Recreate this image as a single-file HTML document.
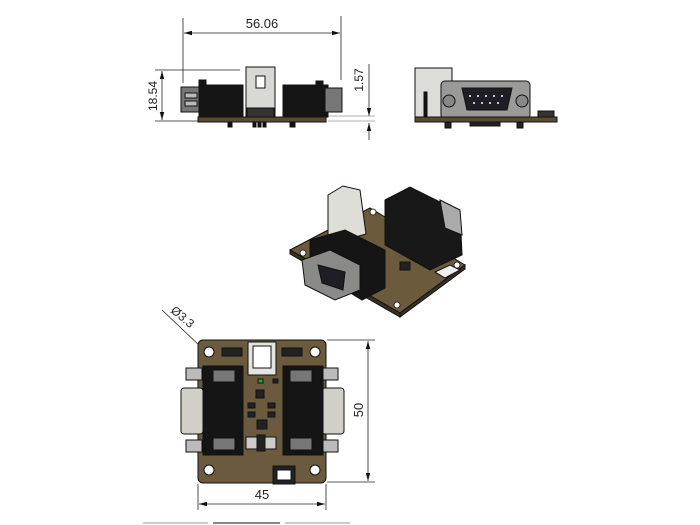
<!DOCTYPE html>
<html><head><meta charset="utf-8"><style>
html,body{margin:0;padding:0;background:#fff;}
svg{display:block;}
text{font-family:"Liberation Sans",sans-serif;fill:#222;}
</style></head><body>
<svg width="700" height="525" viewBox="0 0 700 525" xmlns="http://www.w3.org/2000/svg">
<defs>
<marker id="a" markerWidth="8" markerHeight="6" refX="8" refY="3" orient="auto-start-reverse" markerUnits="userSpaceOnUse"><path d="M0,0.8 L8,3 L0,5.2z" fill="#111"/></marker>
</defs>
<!-- FRONT VIEW -->
<g stroke="#222" stroke-width="0.8" fill="none">
<line x1="183" y1="18" x2="183" y2="83"/>
<line x1="341" y1="16" x2="341" y2="80"/>
<line x1="184" y1="33" x2="340" y2="33" marker-start="url(#a)" marker-end="url(#a)"/>
<line x1="155" y1="70" x2="240" y2="70"/>
<line x1="155" y1="121" x2="198" y2="121"/>
<line x1="162" y1="71" x2="162" y2="120" marker-start="url(#a)" marker-end="url(#a)"/>
<line x1="369" y1="64" x2="369" y2="116" marker-end="url(#a)"/>
<line x1="369" y1="140" x2="369" y2="123" marker-end="url(#a)"/>
<line x1="328" y1="116" x2="375" y2="116" stroke="#999"/>
<line x1="328" y1="121" x2="375" y2="121" stroke="#999"/>
</g>
<text x="262" y="28" font-size="13" text-anchor="middle">56.06</text>
<text x="0" y="0" font-size="12" text-anchor="middle" transform="translate(157,96) rotate(-90)">18.54</text>
<text x="0" y="0" font-size="12" text-anchor="middle" transform="translate(363,80) rotate(-90)">1.57</text>
<g stroke="#111" stroke-width="1">
<rect x="181" y="87" width="20" height="25" fill="#777"/>
<rect x="185" y="93" width="12" height="5" fill="#bbb"/>
<rect x="185" y="101" width="12" height="5" fill="#bbb"/>
<rect x="199" y="85" width="44" height="32" fill="#151515"/>
<rect x="199" y="80" width="7" height="6" fill="#151515"/>
<rect x="246" y="67" width="29" height="50" fill="#d8d8d4"/>
<rect x="256" y="76" width="9" height="12" fill="#fff"/>
<rect x="247" y="108" width="27" height="9" fill="#333"/>
<rect x="283" y="85" width="45" height="32" fill="#151515"/>
<rect x="316" y="81" width="7" height="5" fill="#151515"/>
<rect x="325" y="88" width="17" height="24" fill="#777"/>
<rect x="198" y="117" width="128" height="5" fill="#5a4a32"/>
<rect x="228" y="122" width="4" height="5" fill="#111"/>
<rect x="253" y="122" width="3" height="5" fill="#111"/>
<rect x="258" y="122" width="3" height="5" fill="#111"/>
<rect x="263" y="122" width="3" height="5" fill="#111"/>
<rect x="290" y="122" width="5" height="5" fill="#111"/>
</g>
<!-- SIDE VIEW -->
<g stroke="#111" stroke-width="1">
<rect x="415" y="68" width="37" height="50" fill="#dcdcd8"/>
<rect x="424" y="92" width="3" height="26" fill="#111"/>
<rect x="441" y="81" width="89" height="38" rx="4" fill="#9a9a98"/>
<path d="M462,88 L512,88 L507,110 L467,110 Z" fill="#1e1e24"/>
<circle cx="449" cy="101" r="6" fill="#888"/>
<circle cx="522" cy="101" r="6" fill="#888"/>
<rect x="415" y="117" width="142" height="5" fill="#5a4a32"/>
<rect x="538" y="111" width="16" height="6" fill="#333"/>
<rect x="470" y="122" width="30" height="4" fill="#222"/>
<rect x="445" y="122" width="6" height="6" fill="#222"/>
<rect x="517" y="122" width="6" height="6" fill="#222"/>
</g>
<g fill="#fff" stroke="none">
<circle cx="470" cy="96" r="1"/><circle cx="478" cy="96" r="1"/><circle cx="486" cy="96" r="1"/><circle cx="494" cy="96" r="1"/><circle cx="502" cy="96" r="1"/>
<circle cx="474" cy="103" r="1"/><circle cx="482" cy="103" r="1"/><circle cx="490" cy="103" r="1"/><circle cx="498" cy="103" r="1"/>
</g>
<!-- ISO VIEW -->
<g stroke="#111" stroke-width="1">
<path d="M290,250 L370,208 L465,265 L400,313 Z" fill="#6b5a3c"/>
<path d="M290,250 L400,313 L400,317 L290,254 Z" fill="#3a3020"/>
<path d="M400,313 L465,265 L465,269 L400,317 Z" fill="#3a3020"/>
<path d="M385,200 L410,187 L460,212 L462,255 L430,270 L385,245 Z" fill="#181818"/>
<path d="M440,200 L460,210 L462,235 L445,228 Z" fill="#aaa"/>
<path d="M328,195 L343,186 L360,190 L366,234 L338,242 L328,235 Z" fill="#deded8"/>
<path d="M310,240 L345,230 L385,250 L385,288 L362,300 L310,268 Z" fill="#151515"/>
<path d="M302,260 L330,250 L360,265 L360,290 L335,300 L305,285 Z" fill="#8a8a88"/>
<path d="M318,265 L345,272 L343,290 L322,283 Z" fill="#1e1e24"/>
<rect x="400" y="262" width="10" height="8" fill="#222"/>
<path d="M435,272 L450,265 L460,270 L445,278 Z" fill="#eee"/>
</g>
<g fill="#fff" stroke="#111" stroke-width="0.8">
<circle cx="303" cy="253" r="3"/><circle cx="397" cy="305" r="3"/><circle cx="457" cy="265" r="3"/><circle cx="373" cy="212" r="3"/>
</g>
<!-- BOTTOM VIEW -->
<g stroke="#222" stroke-width="0.8" fill="none">
<line x1="327" y1="340" x2="375" y2="340"/>
<line x1="327" y1="482" x2="375" y2="482"/>
<line x1="368" y1="341" x2="368" y2="481" marker-start="url(#a)" marker-end="url(#a)"/>
<line x1="198" y1="484" x2="198" y2="510"/>
<line x1="326" y1="484" x2="326" y2="510"/>
<line x1="199" y1="504" x2="325" y2="504" marker-start="url(#a)" marker-end="url(#a)"/>
<line x1="162" y1="310" x2="220" y2="365" marker-end="url(#a)"/>
</g>
<text x="262" y="499" font-size="13" text-anchor="middle">45</text>
<text x="0" y="0" font-size="13" text-anchor="middle" transform="translate(363,410) rotate(-90)">50</text>
<text x="0" y="0" font-size="12" text-anchor="middle" transform="translate(180,320) rotate(40)">Ø3.3</text>
<g stroke="#111" stroke-width="1">
<rect x="198" y="340" width="128" height="143" rx="5" fill="#6b5a3e"/>
<rect x="186" y="368" width="16" height="12" fill="#bbb"/>
<rect x="186" y="440" width="16" height="12" fill="#bbb"/>
<rect x="181" y="388" width="22" height="46" rx="3" fill="#d0d0c8"/>
<rect x="322" y="368" width="16" height="12" fill="#bbb"/>
<rect x="322" y="440" width="16" height="12" fill="#bbb"/>
<rect x="322" y="388" width="22" height="46" rx="3" fill="#d0d0c8"/>
<rect x="203" y="366" width="40" height="89" fill="#151515"/>
<rect x="283" y="366" width="40" height="89" fill="#151515"/>
<rect x="213" y="370" width="22" height="12" fill="#777"/>
<rect x="213" y="438" width="22" height="12" fill="#777"/>
<rect x="290" y="370" width="22" height="12" fill="#777"/>
<rect x="290" y="438" width="22" height="12" fill="#777"/>
<rect x="248" y="342" width="28" height="33" fill="#e4e4e0"/>
<rect x="253" y="346" width="18" height="22" fill="#fff"/>
<rect x="222" y="348" width="20" height="8" fill="#222"/>
<rect x="282" y="348" width="20" height="8" fill="#222"/>
<rect x="246" y="437" width="30" height="12" fill="#ccc"/>
<rect x="257" y="435" width="8" height="16" fill="#222"/>
<rect x="273" y="466" width="22" height="18" fill="#222"/>
<rect x="277" y="470" width="14" height="10" fill="#fff"/>
<rect x="257" y="420" width="10" height="9" fill="#222"/>
<rect x="256" y="390" width="8" height="8" fill="#222"/>
<rect x="248" y="403" width="7" height="5" fill="#222"/>
<rect x="268" y="403" width="7" height="5" fill="#222"/>
<rect x="248" y="412" width="7" height="5" fill="#222"/>
<rect x="268" y="412" width="7" height="5" fill="#222"/>
<rect x="258" y="379" width="5" height="4" fill="#2a2"/>
<rect x="273" y="379" width="5" height="4" fill="#222"/>
</g>
<g fill="#fff" stroke="#111" stroke-width="1">
<circle cx="209" cy="352" r="5"/><circle cx="315" cy="352" r="5"/>
<circle cx="209" cy="470" r="5"/><circle cx="315" cy="470" r="5"/>
</g>
<!-- bottom bars -->
<rect x="143" y="522" width="65" height="2" fill="#ccc"/>
<rect x="213" y="522" width="67" height="2" fill="#888"/>
<rect x="285" y="522" width="65" height="2" fill="#ccc"/>
</svg>
</body></html>
